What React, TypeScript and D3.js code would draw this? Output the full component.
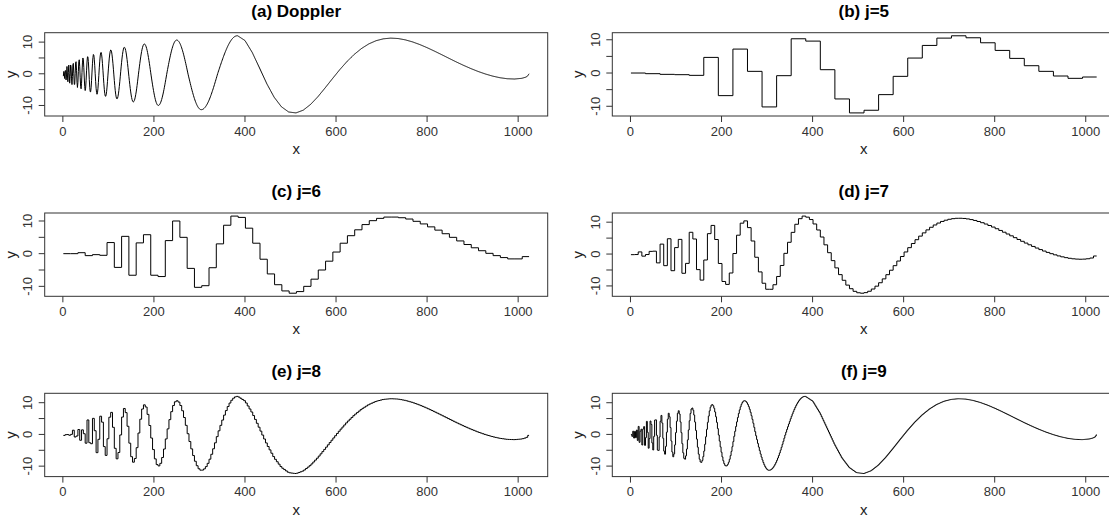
import React from 'react';
import * as d3 from 'd3';

// Doppler signal: extrema and zero crossings of the fast-oscillating part
const CHIRP_X = [1, 1.7, 2.4, 3.1, 3.9, 4.7, 5.5, 6.3, 7.2, 8.1, 9.0, 9.9, 10.9, 11.9, 12.9, 14.0, 15.1, 16.2, 17.4, 18.6,
  19.9, 21.2, 22.6, 24.0, 25.5, 27.0, 28.6, 30.3, 32.0, 33.8, 35.7, 37.7, 39.8, 41.9, 44.2, 46.6, 49.1, 51.7, 54.5, 57.4,
  60.5, 63.8, 67.3, 71.0, 75.0, 79.2, 83.7, 88.5, 93.7, 99.2, 105.3, 111.8, 118.8, 126.6, 135.0, 144.4, 154.7, 166.1,
  178.9, 193.3, 209.6, 228.2, 250.0, 274.8, 304.0, 339.9, 383.0];
const CHIRP_Y = [-0.76, 0, 1.19, 0, -1.53, 0, 1.81, 0, -2.07, 0, 2.31, 0, -2.54, 0, 2.77, 0, -2.99, 0, 3.21, 0,
  -3.43, 0, 3.64, 0, -3.86, 0, 4.09, 0, -4.32, 0, 4.55, 0, -4.79, 0, 5.04, 0, -5.30, 0, 5.57, 0,
  -5.85, 0, 6.15, 0, -6.46, 0, 6.79, 0, -7.15, 0, 7.53, 0, -7.94, 0, 8.39, 0, -8.88, 0,
  9.42, 0, -10.0, 0, 10.65, 0, -11.33, 0, 12.0];
// Slow part of the Doppler signal, read every 16 samples
const TAIL_X = [384, 400, 416, 432, 448, 464, 480, 496, 512, 528, 544, 560, 576, 592, 608, 624, 640, 656, 672, 688,
  704, 720, 736, 752, 768, 784, 800, 816, 832, 848, 864, 880, 896, 912, 928, 944, 960, 976, 992, 1008, 1016, 1020, 1024];
const TAIL_Y = [12.0, 10.5, 6.72, 1.82, -3.15, -7.38, -10.41, -12.06, -12.35, -11.48, -9.68, -7.26, -4.46, -1.56, 1.27,
  3.87, 6.12, 7.99, 9.44, 10.45, 11.04, 11.26, 11.14, 10.72, 10.07, 9.23, 8.25, 7.17, 6.04, 4.89, 3.75, 2.67, 1.66,
  0.74, -0.06, -0.73, -1.24, -1.56, -1.65, -1.43, -1.10, -0.81, 0];

// Step heights, j=5 (32 blocks)
const J5 = [0.0, -0.2, -0.4, -0.5, -0.7, 4.7, -6.8, 7.2, 0.5, -10.2, -0.8, 10.3, 9.6, 1.0, -7.8, -12.0,
  -11.2, -6.5, -1.0, 4.5, 8.3, 10.5, 11.2, 10.6, 9.1, 6.8, 4.4, 2.2, 0.5, -0.9, -1.6, -1.2];
// Step heights, j=6 (64 blocks)
const J6 = [0.0, 0.0, 0.3, -0.6, -0.3, -0.5, 3.4, -4.2, 5.3, -6.6, 3.3, 5.8, -6.6, -7.0, 4.0, 10.0,
  5.0, -4.5, -10.3, -9.8, -4.3, 3.0, 8.7, 11.5, 11.1, 7.8, 3.2, -1.7, -6.2, -9.5, -11.4, -12.1,
  -11.6, -10.0, -7.8, -5.0, -2.3, 0.5, 3.2, 5.5, 7.3, 8.9, 10.1, 10.8, 11.2, 11.2, 11.0, 10.6,
  9.9, 9.1, 8.2, 7.2, 6.1, 5.0, 3.9, 2.8, 1.8, 0.9, 0.1, -0.6, -1.2, -1.6, -1.6, -0.9];

const TITLES = ['(a) Doppler', '(b) j=5', '(c) j=6', '(d) j=7', '(e) j=8', '(f) j=9'];
const X_TICKS = [0, 200, 400, 600, 800, 1000];
const Y_TICKS = [-10, -5, 0, 5, 10];
const Y_LABELED = [-10, 0, 10];

const N = 1024;
const tailScale = d3.scaleLinear().domain(TAIL_X).range(TAIL_Y);

function doppler(x: number): number {
  const last = CHIRP_X[CHIRP_X.length - 1];
  if (x <= last) {
    let i = d3.bisectRight(CHIRP_X, x) - 1;
    i = Math.max(0, Math.min(CHIRP_X.length - 2, i));
    const x0 = CHIRP_X[i], x1 = CHIRP_X[i + 1];
    const y0 = CHIRP_Y[i], y1 = CHIRP_Y[i + 1];
    const s = Math.max(0, Math.min(1, (x - x0) / (x1 - x0)));
    const ease = Math.abs(y0) > Math.abs(y1) ? d3.easeSinIn : d3.easeSinOut;
    return d3.interpolateNumber(y0, y1)(ease(s));
  }
  return tailScale(x);
}

const SAMPLE_X = d3.range(1, N + 1);
const SIGNAL = SAMPLE_X.map(doppler);

function haar(j: number): number[] {
  const w = N / Math.pow(2, j);
  return d3.range(Math.pow(2, j)).map((k) => d3.mean(SIGNAL.slice(k * w, (k + 1) * w)) as number);
}

type Panel = { title: string; pts: [number, number][]; step: boolean; vals: number[] };

function stepPoints(vals: number[]): [number, number][] {
  const w = N / vals.length;
  const pts: [number, number][] = vals.map((v, k) => [k * w + 1, v]);
  pts.push([N, vals[vals.length - 1]]);
  return pts;
}

const PANELS: Panel[] = [
  { title: TITLES[0], pts: SAMPLE_X.map((x, i) => [x, SIGNAL[i]]), step: false, vals: SIGNAL },
  { title: TITLES[1], pts: stepPoints(J5), step: true, vals: J5 },
  { title: TITLES[2], pts: stepPoints(J6), step: true, vals: J6 },
  ...[7, 8, 9].map((j, i) => {
    const v = haar(j);
    return { title: TITLES[3 + i], pts: stepPoints(v), step: true, vals: v };
  }),
];

const FONT = "'Liberation Sans', Arial, Helvetica, sans-serif";
const BOX_LEFT = 44.7;
const BOX_W = 503;
const COL_SHIFT = 567.6;
const ROW_TOP = 32.7;
const ROW_SHIFT = 180.3;
const BOX_H = 83.3;

function PanelView({ p, idx }: { p: Panel; idx: number }) {
  const col = idx % 2;
  const row = Math.floor(idx / 2);
  const left = BOX_LEFT + col * COL_SHIFT;
  const right = left + BOX_W;
  const top = ROW_TOP + row * ROW_SHIFT;
  const bottom = top + BOX_H;
  const xPad = 0.04 * (N - 1);
  const x = d3.scaleLinear().domain([1 - xPad, N + xPad]).range([left, right]);
  const [mn, mx] = d3.extent(p.vals) as [number, number];
  const yPad = 0.04 * (mx - mn);
  const y = d3.scaleLinear().domain([mn - yPad, mx + yPad]).range([bottom, top]);
  const line = d3
    .line<[number, number]>()
    .x((d) => x(d[0]))
    .y((d) => y(d[1]))
    .curve(p.step ? d3.curveStepAfter : d3.curveLinear);
  const cx = (left + right) / 2;
  return (
    <g>
      <text x={cx} y={top - 16} textAnchor="middle" fontFamily={FONT} fontWeight="bold" fontSize={17} fill="#000">
        {p.title}
      </text>
      <path d={line(p.pts) || ''} fill="none" stroke="#000" strokeWidth={1} />
      <rect x={left} y={top} width={right - left} height={bottom - top} fill="none" stroke="#333" strokeWidth={1} />
      {X_TICKS.map((t) => (
        <g key={'x' + t}>
          <line x1={x(t)} x2={x(t)} y1={bottom} y2={bottom + 6} stroke="#333" />
          <text x={x(t)} y={bottom + 19.5} textAnchor="middle" fontFamily={FONT} fontSize={13} fill="#333">
            {t}
          </text>
        </g>
      ))}
      {Y_TICKS.map((t) => (
        <g key={'y' + t}>
          <line x1={left - 6} x2={left} y1={y(t)} y2={y(t)} stroke="#333" />
          {Y_LABELED.includes(t) && (
            <text
              transform={`translate(${left - 12.5},${y(t)}) rotate(-90)`}
              textAnchor="middle"
              fontFamily={FONT}
              fontSize={13}
              fill="#333"
            >
              {t}
            </text>
          )}
        </g>
      ))}
      <text x={cx} y={bottom + 38} textAnchor="middle" fontFamily={FONT} fontSize={15} fill="#222">
        x
      </text>
      <text
        transform={`translate(${left - 29},${(top + bottom) / 2}) rotate(-90)`}
        textAnchor="middle"
        fontFamily={FONT}
        fontSize={15}
        fill="#222"
      >
        y
      </text>
    </g>
  );
}

export default function App() {
  return (
    <svg
      width={1109}
      height={521}
      style={{ position: 'absolute', left: 0, top: 0, background: '#fff', overflow: 'hidden' }}
    >
      <rect x={0} y={0} width={1109} height={521} fill="#fff" />
      {PANELS.map((p, i) => (
        <PanelView key={i} p={p} idx={i} />
      ))}
    </svg>
  );
}
